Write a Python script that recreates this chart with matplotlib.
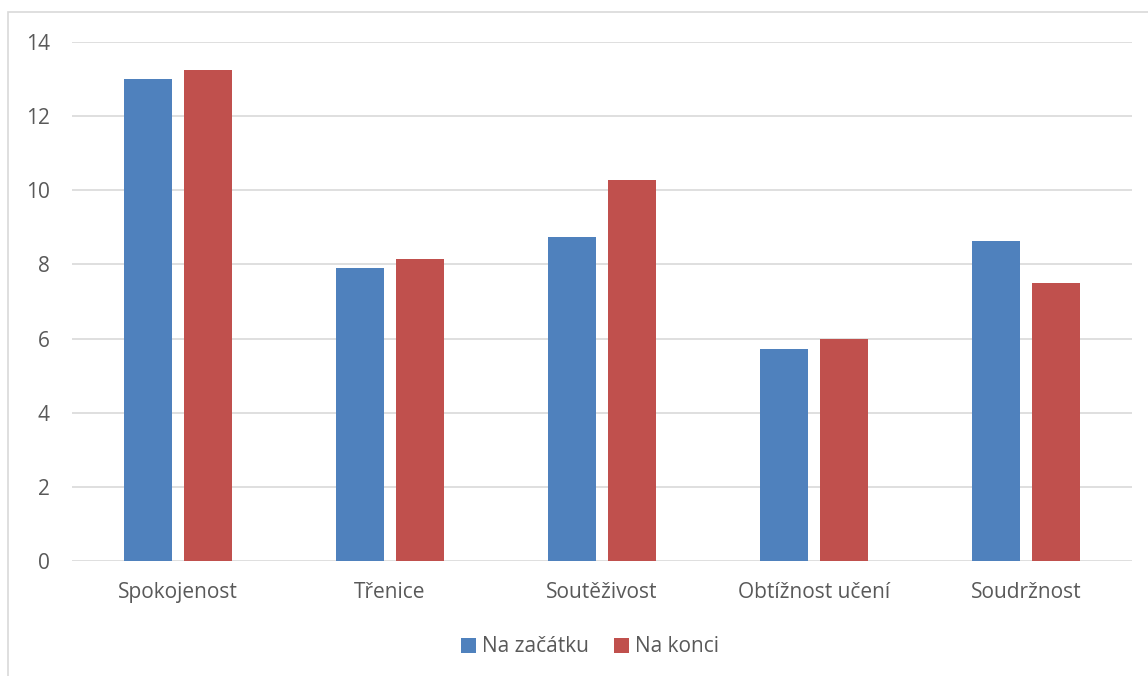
import matplotlib.pyplot as plt
import numpy as np
from matplotlib.patches import Rectangle

plt.rcParams['font.family'] = ['Open Sans', 'DejaVu Sans']

categories = ['Spokojenost', 'Třenice', 'Soutěživost', 'Obtížnost učení', 'Soudržnost']
na_zacatku = [13.0, 7.9, 8.74, 5.72, 8.63]
na_konci = [13.24, 8.15, 10.28, 5.99, 7.5]
series_names = ['Na začátku', 'Na konci']

fig = plt.figure(figsize=(11.48, 6.76), dpi=100)
ax = fig.add_axes([72 / 1148, 1 - 561 / 676, (1132 - 72) / 1148, (561 - 42) / 676])

x = np.arange(len(categories))
w = 0.226
off = 0.1415
ax.bar(x - off, na_zacatku, w, color='#4F81BD', label=series_names[0], zorder=3)
ax.bar(x + off, na_konci, w, color='#C0504D', label=series_names[1], zorder=3)

ax.set_xlim(-0.5, len(categories) - 0.5)
ax.set_ylim(0, 14)
ax.set_yticks(range(0, 15, 2))
ax.set_xticks(x)
ax.set_xticklabels(categories)
ax.grid(axis='y', color='#D9D9D9', linewidth=1.2, zorder=0)
for s in ax.spines.values():
    s.set_visible(False)
ax.tick_params(length=0, labelsize=15, colors='#595959')
ax.tick_params(axis='x', pad=15)
ax.tick_params(axis='y', pad=16)

# chart border
fig.patches.append(Rectangle((8 / 1148, -0.05), 1.2, 1 - 12 / 676 + 0.05,
                             transform=fig.transFigure, fill=False,
                             edgecolor='#D9D9D9', linewidth=1.2))

fig.legend(loc='center', bbox_to_anchor=(590 / 1148, 1 - 647 / 676), ncol=2,
           frameon=False, fontsize=15, labelcolor='#595959', handlelength=0.7,
           handleheight=0.7, handletextpad=0.3, columnspacing=1.2)

fig.savefig('out.png', dpi=100)
